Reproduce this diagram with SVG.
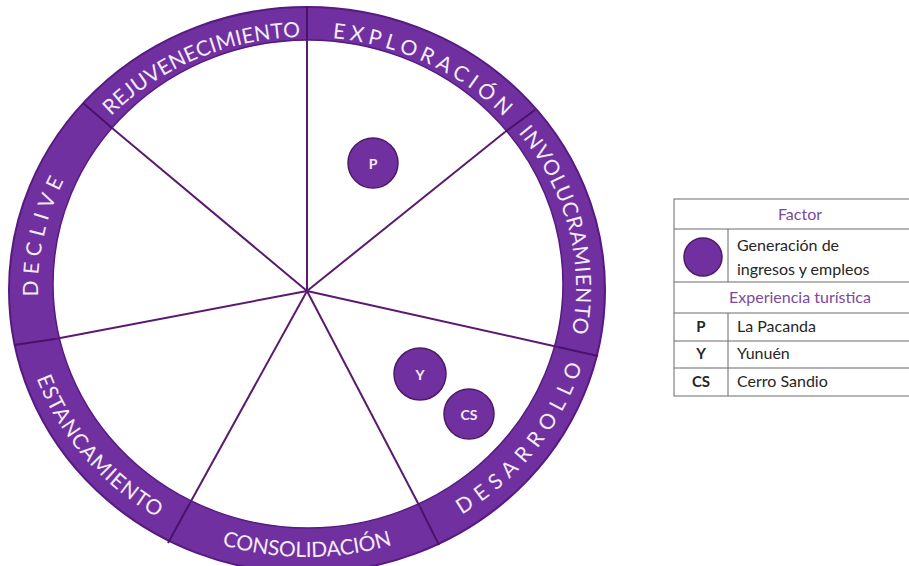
<svg xmlns="http://www.w3.org/2000/svg" width="909" height="566" viewBox="0 0 909 566">
<style>
.band{fill:#7030a0;stroke:#561a80;stroke-width:2}
.hole{fill:#ffffff;stroke:#561a80;stroke-width:1.5}
.spoke{stroke:#5a1a6e;stroke-width:2;fill:none}
.div{stroke:#4a136a;stroke-width:2;fill:none}
.lbl{font-family:Lato,"Open Sans",sans-serif;font-size:21px;fill:#f4ecf8;dominant-baseline:central}
.dot{fill:#7030a0;stroke:#4d1a66;stroke-width:1.5}
.dt{font-family:Lato,"Open Sans",sans-serif;font-size:14px;font-weight:bold;fill:#f4ecf8;text-anchor:middle;dominant-baseline:central}
.tb{fill:none;stroke:#6a6a6a;stroke-width:1}
.th{font-family:Lato,"Open Sans",sans-serif;font-size:16px;fill:#7b4aa0;text-anchor:middle}
.tx{font-family:Lato,"Open Sans",sans-serif;font-size:16px;fill:#262626}
.tk{font-family:Lato,"Open Sans",sans-serif;font-size:15px;font-weight:bold;fill:#262626;text-anchor:middle}
</style>
<defs>
<path id="pRej" d="M81.5,135.9 A278,260 0 0 1 335.1,29.3"/>
<path id="pExp" d="M289.3,28.5 A278,260 0 0 1 538.4,143.9"/>
<path id="pInv" d="M507.3,107.7 A278,260 0 0 1 574.1,360.1"/>
<path id="pDes" d="M416.7,526.9 A278,260 0 0 0 583.1,318.6"/>
<path id="pCon" d="M168,513.2 A278,260 0 0 0 446,513.2"/>
<path id="pEst" d="M32.2,327.6 A278,260 0 0 0 206.3,530.3"/>
<path id="pDec" d="M43.2,370.1 A278,260 0 0 1 99.1,115.4"/>
</defs>
<rect width="909" height="566" fill="#ffffff"/>
<g id="ring">
<ellipse class="band" cx="307" cy="290" rx="298" ry="283"/>
<ellipse class="hole" cx="308" cy="284" rx="255" ry="244"/>
</g>
<g id="connectors">
<line class="spoke" x1="307" y1="291" x2="307" y2="40"/>
<line class="spoke" x1="307" y1="291" x2="505" y2="132"/>
<line class="spoke" x1="307" y1="291" x2="558" y2="347"/>
<line class="spoke" x1="307" y1="291" x2="420" y2="507"/>
<line class="spoke" x1="307" y1="291" x2="190" y2="503"/>
<line class="spoke" x1="307" y1="291" x2="55" y2="339"/>
<line class="spoke" x1="307" y1="291" x2="112" y2="128"/>
<line class="div" x1="307" y1="40" x2="307" y2="7"/>
<line class="div" x1="505" y1="132" x2="535" y2="110"/>
<line class="div" x1="558" y1="347" x2="598" y2="356"/>
<line class="div" x1="420" y1="507" x2="439" y2="545"/>
<line class="div" x1="190" y1="503" x2="168" y2="543"/>
<line class="div" x1="55" y1="339" x2="14" y2="345"/>
<line class="div" x1="112" y1="128" x2="83" y2="103"/>
</g>
<g id="stage-rejuvenecimiento"><text class="lbl"><textPath href="#pRej" startOffset="50%" text-anchor="middle" textLength="216" lengthAdjust="spacing">REJUVENECIMIENTO</textPath></text></g>
<g id="stage-exploracion"><text class="lbl"><textPath href="#pExp" startOffset="50%" text-anchor="middle" textLength="198" lengthAdjust="spacing">EXPLORACIÓN</textPath></text></g>
<g id="stage-involucramiento"><text class="lbl"><textPath href="#pInv" startOffset="50%" text-anchor="middle" textLength="222" lengthAdjust="spacing">INVOLUCRAMIENTO</textPath></text></g>
<g id="stage-desarrollo"><text class="lbl"><textPath href="#pDes" startOffset="50%" text-anchor="middle" textLength="190" lengthAdjust="spacing">DESARROLLO</textPath></text></g>
<g id="stage-consolidacion"><text class="lbl"><textPath href="#pCon" startOffset="50%" text-anchor="middle" textLength="168" lengthAdjust="spacing">CONSOLIDACIÓN</textPath></text></g>
<g id="stage-estancamiento"><text class="lbl"><textPath href="#pEst" startOffset="50%" text-anchor="middle" textLength="182" lengthAdjust="spacing">ESTANCAMIENTO</textPath></text></g>
<g id="stage-declive"><text class="lbl"><textPath href="#pDec" startOffset="50%" text-anchor="middle" textLength="124" lengthAdjust="spacing">DECLIVE</textPath></text></g>
<g id="node-P"><circle class="dot" cx="373" cy="163" r="25"/><text class="dt" x="373" y="163">P</text></g>
<g id="node-Y"><circle class="dot" cx="420" cy="374" r="26"/><text class="dt" x="420" y="374">Y</text></g>
<g id="node-CS"><circle class="dot" cx="469" cy="414" r="25"/><text class="dt" x="469" y="414">CS</text></g>
<g id="legend">
<rect class="tb" x="674" y="199" width="260" height="197"/>
<line class="tb" x1="674" y1="229" x2="934" y2="229"/>
<line class="tb" x1="674" y1="282" x2="934" y2="282"/>
<line class="tb" x1="674" y1="313" x2="934" y2="313"/>
<line class="tb" x1="674" y1="341" x2="934" y2="341"/>
<line class="tb" x1="674" y1="368" x2="934" y2="368"/>
<line class="tb" x1="728" y1="229" x2="728" y2="282"/>
<line class="tb" x1="728" y1="313" x2="728" y2="396"/>
<text class="th" x="800" y="220">Factor</text>
<circle class="dot" cx="703" cy="257" r="19"/>
<text class="tx" x="737" y="251">Generación de</text>
<text class="tx" x="737" y="275">ingresos y empleos</text>
<text class="th" x="800" y="303">Experiencia turística</text>
<text class="tk" x="701" y="332">P</text><text class="tx" x="737" y="332">La Pacanda</text>
<text class="tk" x="701" y="359">Y</text><text class="tx" x="737" y="359">Yunuén</text>
<text class="tk" x="701" y="387">CS</text><text class="tx" x="737" y="387">Cerro Sandio</text>
</g>
</svg>
